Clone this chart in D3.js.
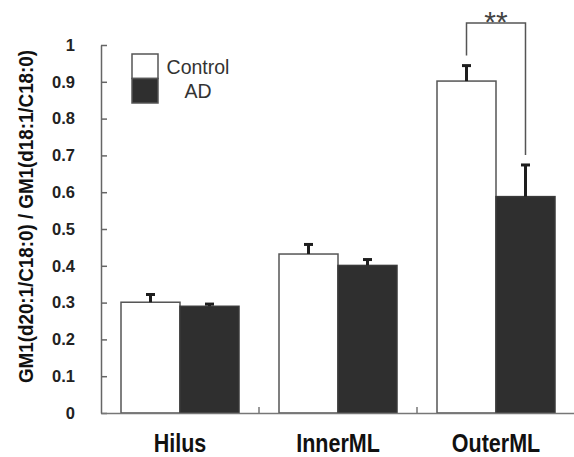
<!DOCTYPE html>
<html>
<head>
<meta charset="utf-8">
<script src="https://cdn.jsdelivr.net/npm/d3@7"></script>
<style>
  html, body { margin: 0; padding: 0; background: #fff; }
  svg { display: block; }
</style>
</head>
<body>
<svg id="chart" width="574" height="457"></svg>
<script>
// ---- data ----
const categories = ["Hilus", "InnerML", "OuterML"];
const seriesNames = ["Control", "AD"];
const controlValues = [0.301, 0.432, 0.902];
const controlErrors = [0.021, 0.026, 0.042];
const adValues = [0.290, 0.401, 0.588];
const adErrors = [0.006, 0.016, 0.086];
const yTicks = [0, 0.1, 0.2, 0.3, 0.4, 0.5, 0.6, 0.7, 0.8, 0.9, 1];
const yTickLabels = ["0", "0.1", "0.2", "0.3", "0.4", "0.5", "0.6", "0.7", "0.8", "0.9", "1"];
const yLabel = "GM1(d20:1/C18:0) / GM1(d18:1/C18:0)";
const significance = { category: "OuterML", label: "**", bracketTop: 1.06 };

// ---- layout ----
const FONT = "Liberation Sans, Arial, sans-serif";
const svg = d3.select("#chart");
const x0 = 101, x1 = 575, yBase = 413, yTop = 45;

const y = d3.scaleLinear().domain([0, 1]).range([yBase, yTop]);
const x = d3.scaleBand().domain(categories).range([x0, x1]).paddingInner(0).paddingOuter(0);
const xs = d3.scaleBand().domain(seriesNames).range([0, x.bandwidth()]).paddingInner(0).paddingOuter(0.339);

const colors = { Control: "#ffffff", AD: "#2f2f2f" };
const strokes = { Control: "#555555", AD: "#3a3a3a" };

function squeeze(sel, k) {
  sel.each(function () {
    const w = this.getComputedTextLength();
    d3.select(this).attr("textLength", w * k).attr("lengthAdjust", "spacingAndGlyphs");
  });
}

const rows = [];
categories.forEach((c, i) => {
  rows.push({ cat: c, series: "Control", v: controlValues[i], e: controlErrors[i] });
  rows.push({ cat: c, series: "AD", v: adValues[i], e: adErrors[i] });
});

// bars
svg.append("g").selectAll("rect").data(rows).join("rect")
  .attr("x", d => x(d.cat) + xs(d.series))
  .attr("y", d => y(d.v))
  .attr("width", xs.bandwidth())
  .attr("height", d => y(0) - y(d.v))
  .attr("fill", d => colors[d.series])
  .attr("stroke", d => strokes[d.series])
  .attr("stroke-width", 1.5);

// error bars (upper only)
const eb = svg.append("g").attr("stroke", "#1e1e1e").attr("stroke-width", 3);
rows.forEach(d => {
  const cx = x(d.cat) + xs(d.series) + xs.bandwidth() / 2;
  eb.append("line").attr("x1", cx).attr("x2", cx).attr("y1", y(d.v)).attr("y2", y(d.v + d.e));
  eb.append("line").attr("x1", cx - 4.5).attr("x2", cx + 4.5).attr("y1", y(d.v + d.e)).attr("y2", y(d.v + d.e));
});

// y axis
const yAxis = d3.axisLeft(y).tickValues(yTicks).tickFormat((d, i) => yTickLabels[i])
  .tickSizeInner(-6).tickSizeOuter(0).tickPadding(26);
const gy = svg.append("g").attr("transform", `translate(${x0},0)`).call(yAxis);
gy.select(".domain").attr("stroke", "#666").attr("stroke-width", 1.5);
gy.selectAll(".tick line").attr("stroke", "#666").attr("stroke-width", 1.5);
gy.selectAll(".tick text").attr("font-size", 16.5).attr("font-weight", "bold")
  .attr("fill", "#222").attr("font-family", FONT);

// x axis
const xAxis = d3.axisBottom(x).tickSize(0).tickPadding(39);
const gx = svg.append("g").attr("transform", `translate(0,${yBase})`).call(xAxis);
gx.select(".domain").attr("stroke", "#777").attr("stroke-width", 1.5);
gx.selectAll(".tick text").attr("dy", "0").attr("font-size", 25).attr("font-weight", "bold")
  .attr("fill", "#111").attr("font-family", FONT);
squeeze(gx.selectAll(".tick text"), 0.86);
// category separators
svg.append("g").selectAll("line").data(categories.slice(1)).join("line")
  .attr("x1", d => x(d)).attr("x2", d => x(d))
  .attr("y1", yBase).attr("y2", yBase - 6)
  .attr("stroke", "#777").attr("stroke-width", 1.5);

// y label
svg.append("text")
  .attr("x", -216.5).attr("y", 33)
  .attr("transform", "rotate(-90)")
  .attr("text-anchor", "middle")
  .attr("font-family", FONT)
  .attr("font-size", 21).attr("font-weight", "bold").attr("fill", "#111")
  .attr("textLength", 333).attr("lengthAdjust", "spacingAndGlyphs")
  .text(yLabel);

// legend
const leg = svg.append("g");
seriesNames.forEach((s, i) => {
  leg.append("rect").attr("x", 132).attr("y", 54 + i * 24.5).attr("width", 26).attr("height", 24.5)
    .attr("fill", colors[s]).attr("stroke", "#555").attr("stroke-width", 1.5);
  leg.append("text").attr("x", 198).attr("y", 73.5 + i * 24.5).attr("text-anchor", "middle")
    .attr("font-family", FONT)
    .attr("font-size", 19.5).attr("fill", "#333").text(s);
});

// significance bracket
const si = categories.indexOf(significance.category);
const cxC = x(significance.category) + xs("Control") + xs.bandwidth() / 2;
const cxA = x(significance.category) + xs("AD") + xs.bandwidth() / 2;
const ylft = y(controlValues[si] + controlErrors[si]) - 10;
const yrgt = y(adValues[si] + adErrors[si]) - 10;
const yt = y(significance.bracketTop);
svg.append("path")
  .attr("d", `M${cxC},${ylft}V${yt}H${cxA}V${yrgt}`)
  .attr("fill", "none").attr("stroke", "#555").attr("stroke-width", 1.5);
svg.append("text").attr("x", (cxC + cxA) / 2).attr("y", yt + 9).attr("text-anchor", "middle")
  .attr("font-family", FONT)
  .attr("font-size", 30).attr("fill", "#444").text(significance.label);
</script>
</body>
</html>
